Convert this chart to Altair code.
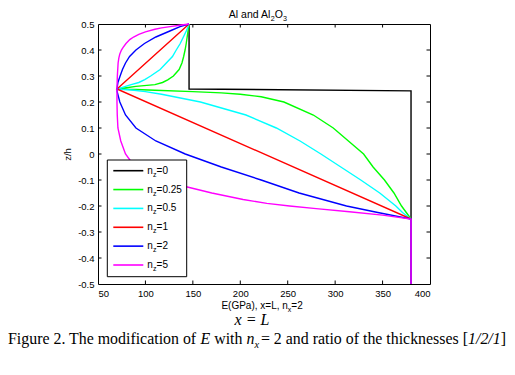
import altair as alt
import pandas as pd

# ---------------- data ----------------
SERIES = ["n_z=0", "n_z=0.25", "n_z=0.5", "n_z=1", "n_z=2", "n_z=5"]
LEG_VALUES = ["0", "0.25", "0.5", "1", "2", "5"]
COLORS = ["#000000", "#00ff00", "#00ffff", "#ff0000", "#0000ff", "#ff00ff"]

Z_NZ0 = [0.5, 0.25, 0.243, -0.25, -0.5]
E_NZ0 = [146, 146, 380, 380, 380]

Z_NZ025 = [0.5, 0.49, 0.475, 0.45, 0.425, 0.4, 0.375, 0.35, 0.325, 0.3, 0.285, 0.275, 0.267, 0.26, 0.255, 0.25,
           0.248, 0.245, 0.24, 0.235, 0.23, 0.22, 0.2, 0.15, 0.1, 0.05, 0.0, -0.05, -0.1, -0.15, -0.2, -0.225, -0.25, -0.5]
E_NZ025 = [146, 145.6, 145, 144, 143, 141.8, 140.3, 138.5, 135.5, 129.5, 123.5, 118, 110, 90, 80, 70,
           90, 110, 150, 180, 200, 222, 246, 277, 298, 314, 330, 340, 352, 362, 370, 375, 380, 380]

Z_NZ05 = [0.5, 0.49, 0.475, 0.45, 0.425, 0.4, 0.375, 0.35, 0.325, 0.3, 0.286, 0.275, 0.267, 0.26, 0.255, 0.25,
          0.245, 0.24, 0.23, 0.2, 0.15, 0.1, 0.05, 0.0, -0.05, -0.1, -0.15, -0.2, -0.225, -0.25, -0.5]
E_NZ05 = [146, 145, 143.3, 140, 136.7, 132.5, 128.5, 122, 115.5, 105.5, 99.3, 93, 85, 79, 75, 70,
          88, 100, 117, 158, 206, 238, 263, 285, 306, 327, 347, 364, 371, 380, 380]

Z_NZ1 = [0.5, 0.25, -0.25, -0.5]
E_NZ1 = [146, 70, 380, 380]

Z_NZ2 = [0.5, 0.49, 0.475, 0.45, 0.425, 0.4, 0.375, 0.35, 0.325, 0.3, 0.275, 0.25,
         0.24, 0.2, 0.15, 0.1, 0.05, 0.0, -0.05, -0.1, -0.15, -0.2, -0.225, -0.25, -0.5]
E_NZ2 = [146, 136.5, 127, 111, 99, 90, 83.3, 79, 75.8, 73.3, 71, 70,
         70.2, 73, 79, 90, 111, 142, 180, 222, 262, 312, 345, 380, 380]

Z_NZ5 = [0.5, 0.495, 0.49, 0.485, 0.48, 0.47, 0.46, 0.45, 0.44, 0.425, 0.41, 0.4, 0.385, 0.37, 0.35, 0.3, 0.25,
         0.2, 0.15, 0.1, 0.05, 0.0, -0.025, -0.05, -0.075, -0.1, -0.125, -0.15, -0.175, -0.19, -0.2, -0.21,
         -0.222, -0.235, -0.25, -0.5]
E_NZ5 = [146, 136, 126, 117, 110, 100, 93, 87.5, 83.5, 79.5, 76.5, 74.7, 73, 72, 71.2, 70.4, 70,
         70, 70.3, 71, 74, 79, 84, 93, 105, 120, 142, 170, 203, 228, 252, 280,
         315, 350, 380, 380]

XTICKS = [50, 100, 150, 200, 250, 300, 350, 400]
YTICKS = [-0.5, -0.4, -0.3, -0.2, -0.1, 0.0, 0.1, 0.2, 0.3, 0.4, 0.5]

TITLE_PARTS = ["Al and Al", "2", "O", "3"]
XTITLE_PARTS = ["E(GPa), x=L, n", "x", "=2"]
YTITLE = "z/h"
SUBLINE = "x = L"
CAPTION_PARTS = ["Figure 2. The modification of", "E", "with", "n", "x",
                 "= 2 and ratio of the thicknesses [", "1/2/1", "]"]

# ---------------- build table ----------------
ZS = [Z_NZ0, Z_NZ025, Z_NZ05, Z_NZ1, Z_NZ2, Z_NZ5]
ES = [E_NZ0, E_NZ025, E_NZ05, E_NZ1, E_NZ2, E_NZ5]
rows = []
for name, zl, el in zip(SERIES, ZS, ES):
    for i, (z, e) in enumerate(zip(zl, el)):
        rows.append({"series": name, "i": i, "z": z, "E": e})
df = pd.DataFrame(rows)

W, H = 332, 260
xscale = alt.Scale(domain=[50, 400], nice=False, zero=False)
yscale = alt.Scale(domain=[-0.5, 0.5], nice=False, zero=False)

xaxis = alt.Axis(values=XTICKS, format="d", title=None, labelPadding=4)
yaxis = alt.Axis(values=YTICKS, title=YTITLE, titlePadding=5, labelPadding=4,
                 labelExpr="datum.value == 0 ? '0' : (datum.value < 0 ? '-' : '') + format(abs(datum.value), '.1f')")
xenc = alt.X("E:Q", scale=xscale, axis=xaxis)
yenc = alt.Y("z:Q", scale=yscale, axis=yaxis)

layers = []
for name, col in zip(SERIES, COLORS):
    layers.append(
        alt.Chart(df).transform_filter(alt.datum.series == name)
        .mark_line(color=col, strokeWidth=1.4)
        .encode(x=xenc, y=yenc, order="i:Q")
    )

# inward ticks (MATLAB box style)
xt = pd.DataFrame({"E": XTICKS[1:-1]})
yt = pd.DataFrame({"z": YTICKS[1:-1]})
TL = 3.5
layers.append(alt.Chart(xt).mark_rule(color="black", strokeWidth=1).encode(
    x=xenc, y=alt.value(H), y2=alt.value(H - TL)))
layers.append(alt.Chart(xt).mark_rule(color="black", strokeWidth=1).encode(
    x=xenc, y=alt.value(0), y2=alt.value(TL)))
layers.append(alt.Chart(yt).mark_rule(color="black", strokeWidth=1).encode(
    y=yenc, x=alt.value(0), x2=alt.value(TL)))
layers.append(alt.Chart(yt).mark_rule(color="black", strokeWidth=1).encode(
    y=yenc, x=alt.value(W), x2=alt.value(W - TL)))

ONE = pd.DataFrame({"k": [0]})


def txt(t, x, y, size, font="Liberation Sans", italic=False, align="left", baseline="alphabetic"):
    return alt.Chart(ONE).mark_text(
        text=t, font=font, fontSize=size, fontStyle="italic" if italic else "normal",
        align=align, baseline=baseline, color="black"
    ).encode(x=alt.value(x), y=alt.value(y))


# legend
legdf = pd.DataFrame({"i": list(range(len(LEG_VALUES))), "val": LEG_VALUES, "col": COLORS})
layers.append(alt.Chart(ONE).mark_rect(fill="white", stroke="black", strokeWidth=1).encode(
    x=alt.value(9.3), x2=alt.value(88.7), y=alt.value(136), y2=alt.value(252.7)))
legbase = alt.Chart(legdf).transform_calculate(py="146.7 + datum.i * 18.86", eq="'=' + datum.val")
layers.append(legbase.mark_rule(strokeWidth=1.6).encode(
    x=alt.value(15.3), x2=alt.value(45.3), y=alt.Y("py:Q", scale=None),
    color=alt.Color("col:N", scale=None)))
layers.append(legbase.mark_text(text="n", font="Liberation Sans", fontSize=10, align="left",
                                baseline="middle", color="black").encode(
    x=alt.value(49.3), y=alt.Y("py:Q", scale=None)))
layers.append(legbase.mark_text(text="z", font="Liberation Sans", fontSize=7, align="left",
                                baseline="middle", dy=4, color="black").encode(
    x=alt.value(54.9), y=alt.Y("py:Q", scale=None)))
layers.append(legbase.mark_text(font="Liberation Sans", fontSize=10, align="left",
                                baseline="middle", color="black").encode(
    x=alt.value(58.6), y=alt.Y("py:Q", scale=None), text="eq:N"))

# title  Al and Al2O3  (centred over the plot)
TB = -6
layers.append(txt(TITLE_PARTS[0], 130.8, TB, 10.5))
layers.append(txt(TITLE_PARTS[1], 172.8, TB + 2.5, 7.2))
layers.append(txt(TITLE_PARTS[2], 176.8, TB, 10.5))
layers.append(txt(TITLE_PARTS[3], 185.0, TB + 2.5, 7.2))

# x-axis title  E(GPa), x=L, n_x=2
layers.append(txt(XTITLE_PARTS[0], 123.4, 285, 10))
layers.append(txt(XTITLE_PARTS[1], 189.8, 288, 7))
layers.append(txt(XTITLE_PARTS[2], 193.3, 285, 10))

# caption below the figure (plot-area coordinates: page x - 98, page y - 24)
layers.append(txt(SUBLINE, 154, 301, 16, font="Liberation Serif", italic=True, align="center"))
CY = 320
CF = 15.9
layers.append(txt(CAPTION_PARTS[0], -90, CY, CF, font="Liberation Serif"))
layers.append(txt(CAPTION_PARTS[1], 102.5, CY, CF, font="Liberation Serif", italic=True))
layers.append(txt(CAPTION_PARTS[2], 116.2, CY, CF, font="Liberation Serif"))
layers.append(txt(CAPTION_PARTS[3], 148.4, CY, CF, font="Liberation Serif", italic=True))
layers.append(txt(CAPTION_PARTS[4], 156.4, CY + 3.5, 10.3, font="Liberation Serif", italic=True))
layers.append(txt(CAPTION_PARTS[5], 370.0, CY, CF, font="Liberation Serif", align="right"))
layers.append(txt(CAPTION_PARTS[6], 402.7, CY, CF, font="Liberation Serif", italic=True, align="right"))
layers.append(txt(CAPTION_PARTS[7], 408.0, CY, CF, font="Liberation Serif", align="right"))

chart = alt.layer(*layers).properties(
    width=W, height=H,
    padding={"left": 90, "top": 16, "right": 77, "bottom": 80},
    autosize=alt.AutoSizeParams(type="none"),
    background="white",
).configure_view(
    stroke="black", strokeWidth=1
).configure_axis(
    domain=False, ticks=False, grid=False,
    labelFont="Liberation Sans", labelFontSize=9.5, labelColor="black",
    titleFont="Liberation Sans", titleFontSize=9.5, titleFontWeight="normal", titleColor="black",
)

chart.save("out.html", embed_options={"renderer": "svg", "actions": False})
